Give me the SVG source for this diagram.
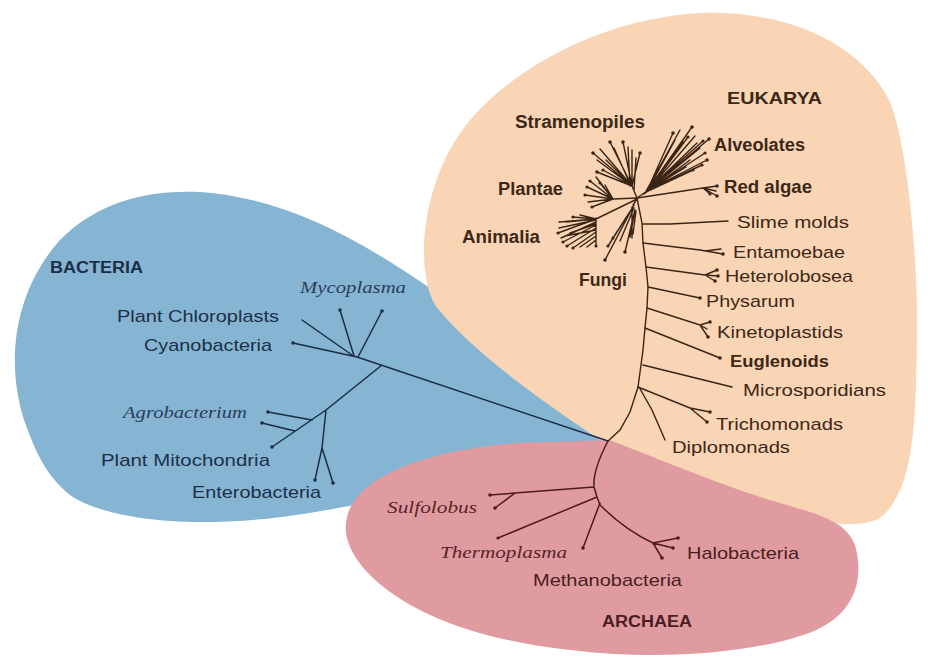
<svg xmlns="http://www.w3.org/2000/svg" width="928" height="660" viewBox="0 0 928 660">
<style>
.lb{font-family:"Liberation Sans",Arial,sans-serif;font-size:17px}
.bd{font-weight:bold}
.it{font-family:"Liberation Serif","Times New Roman",serif;font-style:italic;font-size:17px}
.te{fill:#3d2817}.tb{fill:#1d2f48}.tbi{fill:#2c3e5c}.ta{fill:#4a1e20}.tai{fill:#5a2428}
.le{stroke:#3a2414;stroke-width:1.4;fill:none;stroke-linecap:round}
.lbac{stroke:#1b2d45;stroke-width:1.5;fill:none;stroke-linecap:round}
.la{stroke:#4d1a1e;stroke-width:1.5;fill:none;stroke-linecap:round}
.de{fill:#3a2414}.db{fill:#1b2d45}.da{fill:#4d1a1e}
</style>
<rect width="928" height="660" fill="#ffffff"/>
<g id="regions">
<path id="bacteria-region" fill="#85B5D3" d="M24,420 C5,360 15,290 60,240 C100,200 150,190 200,192 C280,198 350,232 440,295 L560,400 L612,442 L500,470 C430,490 390,500 355,505 C300,515 260,522 200,522 C140,522 90,510 70,495 C45,475 35,450 24,420 Z"/>
<path id="eukarya-region" fill="#F9D5B5" d="M470,120 C520,62 610,18 700,13 C790,10 860,45 888,98 C905,130 918,250 917,330 C916,420 915,490 880,518 C860,528 830,525 800,515 L600,440 C540,400 470,350 435,305 C415,270 420,180 470,120 Z"/>
<path id="archaea-region" fill="#E09BA0" d="M346,523 C350,480 420,450 520,443 L609,440 C650,455 720,485 770,500 C820,515 845,520 855,545 C865,580 855,620 800,636 C740,655 650,660 570,650 C480,640 410,615 370,575 C350,555 344,535 346,523 Z"/>
</g>
<g id="connectors">
<g id="bacteria-tree">
<path class="lbac" d="M608,441 L357,357 M357,357 L293,343 M352,355 L302,320 M354,356 L340,310 M358,357 L382,311 M382,365 L326,410 M326,410 L272,447 M312,420 L268,412 M295,431 L262,423 M326,410 L322,448 L315,480 M322,448 L333,483"/>
<g class="db"><circle cx="293" cy="343" r="1.8"/><circle cx="340" cy="310" r="1.8"/><circle cx="382" cy="311" r="1.8"/><circle cx="272" cy="447" r="1.8"/><circle cx="268" cy="412" r="1.8"/><circle cx="262" cy="423" r="1.8"/><circle cx="315" cy="480" r="1.8"/><circle cx="333" cy="483" r="1.8"/></g>
</g>
<g id="eukarya-tree">
<path class="le" d="M637,198 L642,223 L643,243 L646,267 L648,287 L647,308 L645,328 L643,350 L641,365 L638,387 L630,412 L620,430 L608,441"/>
<path class="le" d="M643,224 L670,224 L728,221 M643,243 L700,250 L723,254 M705,251 L721,249 M646,267 L705,275 L717,270 M705,275 L718,276 M705,275 L715,281 M648,287 L700,298 M647,308 L700,325 L710,322 M700,325 L707,329 M700,325 L708,337 M645,328 L720,358 M643,365 L732,387 M638,387 L690,408 L710,412 M690,408 L707,422 M639,387 L652,410 L665,440"/>
<path class="le" d="M637,198 L703,188 L717,186 M703,188 L716,191 M703,188 L717,196 M703,188 L710,194"/>
<path class="le" d="M637,198 L647,191 M647,191 L673,133 M645,193 L680,130 M647,191 L692,127 M648,190 L675,140 M647,191 L683,142 M650,188 L688,137 M647,191 L697,143 M649,189 L703,141 M647,191 L709,139 M645,193 L700,148 M647,191 L705,153 M650,189 L707,160 M647,191 L702,165 M646,192 L693,170 M647,191 L686,167 M651,187 L695,136 M644,194 L690,160"/>
<path class="le" d="M637,198 L632,186 M632,186 L593,153 M632,186 L597,160 M632,186 L600,149 M632,186 L610,142 M631,186 L614,148 M632,186 L623,142 M630,186 L628,147 M632,186 L632,150 M632,186 L640,153 M632,186 L603,170 M632,186 L597,172 M632,186 L606,160 M634,190 L636,158"/>
<path class="le" d="M637,198 L613,199 M613,199 L587,187 M613,199 L590,181 M613,199 L585,195 M613,199 L592,207 M613,199 L600,183 M613,199 L596,177 M613,199 L588,202 M613,199 L605,185"/>
<path class="le" d="M637,199 L596,219 M596,218 L596,246 M596,219 L558,233 M596,220 L559,228 M596,222 L561,238 M596,225 L563,242 M596,228 L567,246 M596,232 L573,248 M596,236 L580,247 M596,240 L587,247 M596,219 L566,222 M596,219 L573,217 M596,219 L580,215 M596,219 L559,222 M596,224 L570,233 M596,230 L565,236"/>
<path class="le" d="M637,199 L633,205 M634,205 L605,260 M633,207 L613,238 M634,208 L620,241 M635,210 L625,252 M635,210 L630,237 M636,211 L633,234 M633,207 L608,246 M632,207 L632,238"/>
<g class="de">
<circle cx="723" cy="254" r="1.8"/><circle cx="717" cy="270" r="1.8"/><circle cx="718" cy="276" r="1.8"/><circle cx="715" cy="281" r="1.8"/><circle cx="700" cy="298" r="1.8"/><circle cx="710" cy="322" r="1.8"/><circle cx="708" cy="337" r="1.8"/><circle cx="720" cy="358" r="1.8"/><circle cx="710" cy="412" r="1.8"/><circle cx="707" cy="422" r="1.8"/>
<circle cx="717" cy="186" r="1.8"/><circle cx="717" cy="196" r="1.8"/><circle cx="710" cy="194" r="1.6"/>
<circle cx="673" cy="133" r="1.8"/><circle cx="692" cy="127" r="1.8"/><circle cx="709" cy="139" r="1.8"/><circle cx="703" cy="141" r="1.6"/><circle cx="705" cy="153" r="1.6"/><circle cx="707" cy="160" r="1.8"/><circle cx="702" cy="165" r="1.6"/><circle cx="693" cy="170" r="1.6"/><circle cx="688" cy="137" r="1.6"/>
<circle cx="593" cy="153" r="1.8"/><circle cx="610" cy="142" r="1.8"/><circle cx="623" cy="142" r="1.8"/><circle cx="640" cy="153" r="1.8"/><circle cx="597" cy="172" r="1.8"/><circle cx="603" cy="170" r="1.6"/>
<circle cx="587" cy="187" r="1.6"/><circle cx="590" cy="181" r="1.6"/><circle cx="585" cy="195" r="1.6"/><circle cx="592" cy="207" r="1.6"/><circle cx="600" cy="183" r="1.6"/>
<circle cx="558" cy="233" r="1.6"/><circle cx="563" cy="242" r="1.6"/><circle cx="567" cy="246" r="1.6"/><circle cx="573" cy="248" r="1.6"/><circle cx="573" cy="217" r="1.6"/><circle cx="596" cy="246" r="1.6"/>
<circle cx="605" cy="260" r="1.8"/><circle cx="613" cy="238" r="1.6"/><circle cx="625" cy="252" r="1.8"/><circle cx="608" cy="246" r="1.6"/>
</g>
</g>
<g id="archaea-tree">
<path class="la" d="M608,441 C598,460 593,475 594,487 L597,497 L600,505 M594,487 L515,493 L490,495 M515,493 L495,508 M597,497 L498,538 M600,503 L583,548 M600,505 Q625,530 653,543 L678,538 M653,543 L673,548 M653,543 L662,558"/>
<g class="da"><circle cx="490" cy="495" r="1.8"/><circle cx="495" cy="508" r="1.8"/><circle cx="498" cy="538" r="1.6"/><circle cx="583" cy="548" r="1.8"/><circle cx="678" cy="538" r="1.8"/><circle cx="673" cy="548" r="1.8"/><circle cx="662" cy="558" r="1.8"/></g>
</g>
</g>
<g id="eukarya-labels">
<g id="lbl-eukarya"><text class="lb bd te" x="727" y="104" textLength="95" lengthAdjust="spacingAndGlyphs">EUKARYA</text></g>
<g id="lbl-stramenopiles"><text class="lb bd te" style="font-size:18px" x="515" y="128" textLength="130" lengthAdjust="spacingAndGlyphs">Stramenopiles</text></g>
<g id="lbl-alveolates"><text class="lb bd te" style="font-size:18px" x="714" y="151" textLength="91" lengthAdjust="spacingAndGlyphs">Alveolates</text></g>
<g id="lbl-redalgae"><text class="lb bd te" style="font-size:18px" x="724" y="193" textLength="88" lengthAdjust="spacingAndGlyphs">Red algae</text></g>
<g id="lbl-plantae"><text class="lb bd te" style="font-size:18px" x="498" y="195" textLength="65" lengthAdjust="spacingAndGlyphs">Plantae</text></g>
<g id="lbl-animalia"><text class="lb bd te" style="font-size:18px" x="462" y="243" textLength="78" lengthAdjust="spacingAndGlyphs">Animalia</text></g>
<g id="lbl-fungi"><text class="lb bd te" style="font-size:18px" x="579" y="286" textLength="48" lengthAdjust="spacingAndGlyphs">Fungi</text></g>
<g id="lbl-slimemolds"><text class="lb te" x="737" y="228" textLength="112" lengthAdjust="spacingAndGlyphs">Slime molds</text></g>
<g id="lbl-entamoebae"><text class="lb te" x="733" y="258" textLength="112" lengthAdjust="spacingAndGlyphs">Entamoebae</text></g>
<g id="lbl-heterolobosea"><text class="lb te" x="725" y="282" textLength="128" lengthAdjust="spacingAndGlyphs">Heterolobosea</text></g>
<g id="lbl-physarum"><text class="lb te" x="706" y="307" textLength="89" lengthAdjust="spacingAndGlyphs">Physarum</text></g>
<g id="lbl-kinetoplastids"><text class="lb te" x="717" y="338" textLength="126" lengthAdjust="spacingAndGlyphs">Kinetoplastids</text></g>
<g id="lbl-euglenoids"><text class="lb bd te" x="730" y="367" textLength="99" lengthAdjust="spacingAndGlyphs">Euglenoids</text></g>
<g id="lbl-microsporidians"><text class="lb te" x="743" y="396" textLength="143" lengthAdjust="spacingAndGlyphs">Microsporidians</text></g>
<g id="lbl-trichomonads"><text class="lb te" x="716" y="430" textLength="127" lengthAdjust="spacingAndGlyphs">Trichomonads</text></g>
<g id="lbl-diplomonads"><text class="lb te" x="672" y="453" textLength="118" lengthAdjust="spacingAndGlyphs">Diplomonads</text></g>
</g>
<g id="bacteria-labels">
<g id="lbl-bacteria"><text class="lb bd tb" style="font-size:16px" x="50" y="273" textLength="93" lengthAdjust="spacingAndGlyphs">BACTERIA</text></g>
<g id="lbl-mycoplasma"><text class="it tbi" style="font-size:16px" x="300" y="293" textLength="106" lengthAdjust="spacingAndGlyphs">Mycoplasma</text></g>
<g id="lbl-chloroplasts"><text class="lb tb" x="117" y="322" textLength="162" lengthAdjust="spacingAndGlyphs">Plant Chloroplasts</text></g>
<g id="lbl-cyanobacteria"><text class="lb tb" x="144" y="351" textLength="128" lengthAdjust="spacingAndGlyphs">Cyanobacteria</text></g>
<g id="lbl-agrobacterium"><text class="it tbi" x="123" y="418" textLength="124" lengthAdjust="spacingAndGlyphs">Agrobacterium</text></g>
<g id="lbl-mitochondria"><text class="lb tb" x="101" y="466" textLength="169" lengthAdjust="spacingAndGlyphs">Plant Mitochondria</text></g>
<g id="lbl-enterobacteria"><text class="lb tb" x="192" y="498" textLength="129" lengthAdjust="spacingAndGlyphs">Enterobacteria</text></g>
</g>
<g id="archaea-labels">
<g id="lbl-sulfolobus"><text class="it tai" x="387" y="513" textLength="90" lengthAdjust="spacingAndGlyphs">Sulfolobus</text></g>
<g id="lbl-thermoplasma"><text class="it tai" x="440" y="558" textLength="127" lengthAdjust="spacingAndGlyphs">Thermoplasma</text></g>
<g id="lbl-methanobacteria"><text class="lb ta" x="533" y="586" textLength="149" lengthAdjust="spacingAndGlyphs">Methanobacteria</text></g>
<g id="lbl-halobacteria"><text class="lb ta" x="687" y="559" textLength="112" lengthAdjust="spacingAndGlyphs">Halobacteria</text></g>
<g id="lbl-archaea"><text class="lb bd ta" style="font-size:16px" x="602" y="627" textLength="90" lengthAdjust="spacingAndGlyphs">ARCHAEA</text></g>
</g>
</svg>
